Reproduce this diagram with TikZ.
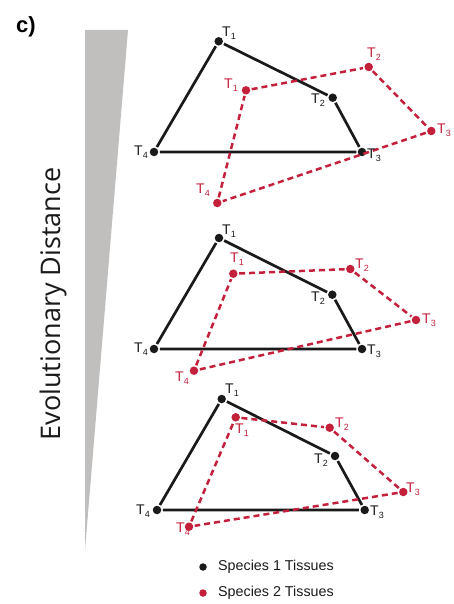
\documentclass[tikz,border=0pt]{standalone}
\usepackage{fontspec}
\setmainfont{Liberation Sans}
\newfontfamily\evofont{Open Sans}
\definecolor{sred}{HTML}{C4203C}
\definecolor{sblk}{HTML}{1A1A1A}
\definecolor{wedge}{HTML}{C0BFBE}
\newcommand{\Tl}[1]{T\raisebox{-3.2pt}{\fontsize{9}{9}\selectfont #1}}
\tikzset{
  bdot/.style={circle,fill=sblk,minimum size=8.5pt,inner sep=0pt,outer sep=1.5pt},
  rdot/.style={circle,fill=sred,minimum size=8.5pt,inner sep=0pt,outer sep=1.5pt},
  bline/.style={draw=sblk,line width=2.7pt},
  rline/.style={draw=sred,line width=2.5pt,dash pattern=on 6pt off 4pt},
  blbl/.style={inner sep=0pt,text=sblk,font=\fontsize{14}{14}\selectfont},
  rlbl/.style={inner sep=0pt,text=sred,font=\fontsize{14}{14}\selectfont},
  legdot/.style={circle,minimum size=7.5pt,inner sep=0pt},
  legtxt/.style={anchor=west,inner sep=0pt,text=sblk,font=\fontsize{14.3}{14.3}\selectfont}
}
\begin{document}
\begin{tikzpicture}[x=1pt,y=-1pt]
\useasboundingbox (0,0) rectangle (454,604);
% panel letter
\node[inner sep=0pt,font=\fontsize{22}{22}\selectfont\bfseries] (lab) at (26,27) {c)};
% wedge
\coordinate (w1) at (85,30);
\coordinate (w2) at (128,30);
\coordinate (w3) at (85,550);
\fill[wedge] (w1) -- (w2) -- (w3) -- cycle;
\node[rotate=90,inner sep=0pt,font=\evofont\fontsize{27}{27}\selectfont,text=sblk] (evo) at (53,304) {Evolutionary Distance};

% ---------- panel 1 ----------
\node[bdot] (a1) at (218.7,41.3) {};
\node[bdot] (a2) at (332.7,97.7) {};
\node[bdot] (a3) at (362,152) {};
\node[bdot] (a4) at (154,152) {};
\node[rdot] (b1) at (246,90.3) {};
\node[rdot] (b2) at (368.7,67) {};
\node[rdot] (b3) at (431.3,131) {};
\node[rdot] (b4) at (217.3,203) {};
\draw[bline] (a1) -- (a2) -- (a3) -- (a4) -- (a1);
\draw[rline] (b1) -- (b2) -- (b3) -- (b4) -- (b1);
\node[blbl] (a1l) at (229,33) {\Tl{1}};
\node[blbl] (a2l) at (318,100) {\Tl{2}};
\node[blbl] (a3l) at (374,155) {\Tl{3}};
\node[blbl] (a4l) at (141,152) {\Tl{4}};
\node[rlbl] (b1l) at (231,85) {\Tl{1}};
\node[rlbl] (b2l) at (374,54) {\Tl{2}};
\node[rlbl] (b3l) at (444,130) {\Tl{3}};
\node[rlbl] (b4l) at (203,190) {\Tl{4}};

% ---------- panel 2 ----------
\node[bdot] (c1) at (219,238) {};
\node[bdot] (c2) at (332.3,294.7) {};
\node[bdot] (c3) at (362,349) {};
\node[bdot] (c4) at (154,349) {};
\node[rdot] (d1) at (233.3,273.7) {};
\node[rdot] (d2) at (350.3,269) {};
\node[rdot] (d3) at (416,320) {};
\node[rdot] (d4) at (194,370.7) {};
\draw[bline] (c1) -- (c2) -- (c3) -- (c4) -- (c1);
\draw[rline] (d1) -- (d2) -- (d3) -- (d4) -- (d1);
\node[blbl] (c1l) at (229,231) {\Tl{1}};
\node[blbl] (c2l) at (318,298) {\Tl{2}};
\node[blbl] (c3l) at (374,351) {\Tl{3}};
\node[blbl] (c4l) at (141,349) {\Tl{4}};
\node[rlbl] (d1l) at (237,259) {\Tl{1}};
\node[rlbl] (d2l) at (362,265) {\Tl{2}};
\node[rlbl] (d3l) at (429,320) {\Tl{3}};
\node[rlbl] (d4l) at (182,378) {\Tl{4}};

% ---------- panel 3 ----------
\node[bdot] (e1) at (221.7,399) {};
\node[bdot] (e2) at (335,456) {};
\node[bdot] (e3) at (364.7,510) {};
\node[bdot] (e4) at (157,510) {};
\node[rdot] (f1) at (235.7,417.3) {};
\node[rdot] (f2) at (329.7,427.7) {};
\node[rdot] (f3) at (403.3,492) {};
\node[rdot] (f4) at (189,526.7) {};
\draw[bline] (e1) -- (e2) -- (e3) -- (e4) -- (e1);
\draw[rline] (f1) -- (f2) -- (f3) -- (f4) -- (f1);
\node[blbl] (e1l) at (232,390) {\Tl{1}};
\node[blbl] (e2l) at (321,460) {\Tl{2}};
\node[blbl] (e3l) at (377,512) {\Tl{3}};
\node[blbl] (e4l) at (143,511) {\Tl{4}};
\node[rlbl] (f1l) at (242,430) {\Tl{1}};
\node[rlbl] (f2l) at (342,424) {\Tl{2}};
\node[rlbl] (f3l) at (413,489) {\Tl{3}};
\node[rlbl] (f4l) at (183,529) {\Tl{4}};

% ---------- legend ----------
\node[legdot,fill=sblk] (g1) at (203,567) {};
\node[legdot,fill=sred] (g2) at (203,593) {};
\node[legtxt] (g1t) at (218,567) {Species 1 Tissues};
\node[legtxt] (g2t) at (218,593) {Species 2 Tissues};
\end{tikzpicture}
\end{document}
